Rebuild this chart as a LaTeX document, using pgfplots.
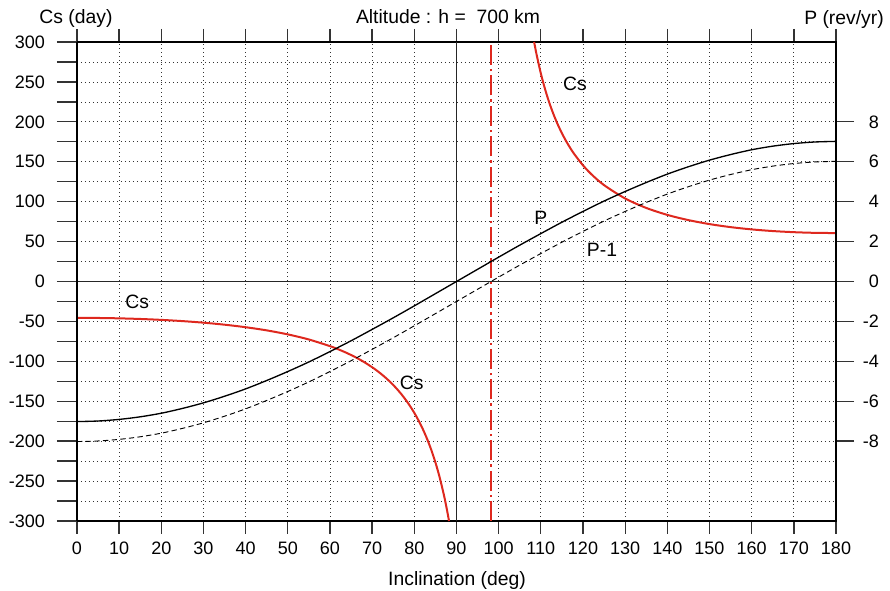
\documentclass[border=0pt]{standalone}
\usepackage{fontspec}
\setmainfont{Liberation Sans}
\usepackage{pgfplots}
\pgfplotsset{compat=1.18}
\definecolor{cred}{RGB}{222,40,30}
\newcommand{\ff}{\fontsize{13.5}{16}\selectfont}
\newcommand{\fl}{\fontsize{14.5}{17}\selectfont}

\begin{document}
\ff
\begin{tikzpicture}
\pgfplotsset{
  base/.style={width=569.25pt,height=359.25pt,scale only axis,xmin=0,xmax=180,
    /pgf/number format/assume math mode=true, tick align=outside,
    every tick/.style={black!80,line width=1pt},
    tick label style={font=\ff},
    axis line style={line width=1.1pt}},
}
% main axis: grid, x ticks, Cs curves
\begin{axis}[base, ymin=-300, ymax=300,
  xtick={0,10,...,180}, ytick={-300,-250,...,300}, minor ytick={-275,-225,...,275},
  grid=both,
  major grid style={black!80,line width=0.55pt,dash pattern=on 0.55pt off 2.45pt},
  minor grid style={black!80,line width=0.55pt,dash pattern=on 0.55pt off 2.45pt},
  major tick length=9.75pt, minor tick length=0pt,
  ytick style={draw=none},
  yticklabel style={xshift=-9.6pt},
  xticklabel style={yshift=-1.5pt},
  clip=false]
\coordinate (SW) at (rel axis cs:0,0);
\addplot[black!85, line width=0.9pt] coordinates {(90,-300) (90,300)};
\addplot[black!85, line width=0.9pt] coordinates {(0,0) (180,0)};
\addplot[cred, line width=1.4pt, dash pattern=on 15pt off 3pt on 1.8pt off 3pt] coordinates {(98.19,-300) (98.19,300)};
% Cs, left branch
\addplot[cred, line width=1.5pt, smooth] coordinates {
(0,-45.54) (5,-45.70) (10,-46.16) (15,-46.94) (20,-48.08) (25,-49.61) (30,-51.59)
(35,-54.11) (40,-57.27) (45,-61.24) (50,-66.26) (55,-72.66) (60,-80.99) (62,-85.03)
(64,-89.58) (66,-94.74) (68,-100.63) (70,-107.40) (71,-111.17) (72,-115.25) (73,-119.66)
(74,-124.45) (75,-129.66) (76,-135.36) (77,-141.62) (78,-148.51) (79,-156.12) (80,-164.60)
(81,-174.09) (82,-184.75) (83,-196.85) (84,-210.67) (85,-226.60) (86,-245.18)
(87,-267.11) (87.5,-279.63) (88,-293.37) (88.22,-300)};
% Cs, right branch
\addplot[cred, line width=1.5pt, smooth] coordinates {
(108.41,300) (108.5,297.56) (109,284.13) (110,260.71) (111,240.96) (112,224.11)
(113,209.56) (114,196.87) (115,185.71) (116,175.82) (117,167.01) (118,159.10)
(120,145.52) (122,134.28) (125,120.68) (130,103.99) (135,92.14) (140,83.44)
(145,76.89) (150,71.91) (155,68.11) (160,65.26) (165,63.18) (170,61.77)
(175,60.94) (180,60.67)};
\node[font=\fl] at (axis cs:14.3,-25) {Cs};
\node[font=\fl] at (axis cs:79.4,-126.6) {Cs};
\node[font=\fl] at (axis cs:118.1,248) {Cs};
\node[font=\fl] at (axis cs:110,80) {P};
\node[font=\fl] at (axis cs:124.5,40) {P-1};
\end{axis}
% left ticks every 25
\begin{axis}[base, ymin=-300, ymax=300, axis x line=none, axis y line*=left,
  xtick=\empty, ytick={-300,-275,...,300}, yticklabels={},
  major tick length=15pt]
\end{axis}
% right axis: P (rev/yr)
\begin{axis}[base, ymin=-12, ymax=12, axis x line=none, axis y line*=right,
  xtick=\empty, ytick={-8,-6,...,8},
  major tick length=13.5pt,
  yticklabel style={anchor=east, xshift=23.4pt}]
\addplot[black, line width=1pt, smooth] coordinates {
(0,-7.02) (5,-6.99) (10,-6.91) (15,-6.78) (20,-6.60) (25,-6.36) (30,-6.08) (35,-5.75)
(40,-5.38) (45,-4.96) (50,-4.51) (55,-4.03) (60,-3.51) (65,-2.97) (70,-2.40) (75,-1.82)
(80,-1.22) (85,-0.61) (90,0) (95,0.61) (100,1.22) (105,1.82) (110,2.40) (115,2.97)
(120,3.51) (125,4.03) (130,4.51) (135,4.96) (140,5.38) (145,5.75) (150,6.08) (155,6.36)
(160,6.60) (165,6.78) (170,6.91) (175,6.99) (180,7.02)};
\addplot[black, line width=0.7pt, smooth, dash pattern=on 4pt off 2.5pt] coordinates {
(0,-8.02) (5,-7.99) (10,-7.91) (15,-7.78) (20,-7.60) (25,-7.36) (30,-7.08) (35,-6.75)
(40,-6.38) (45,-5.96) (50,-5.51) (55,-5.03) (60,-4.51) (65,-3.97) (70,-3.40) (75,-2.82)
(80,-2.22) (85,-1.61) (90,-1) (95,-0.39) (100,0.22) (105,0.82) (110,1.40) (115,1.97)
(120,2.51) (125,3.03) (130,3.51) (135,3.96) (140,4.38) (145,4.75) (150,5.08) (155,5.36)
(160,5.60) (165,5.78) (170,5.91) (175,5.99) (180,6.02)};
\end{axis}
\node[font=\fl, anchor=base] at ([xshift=278.25pt, yshift=372.75pt]SW) {Altitude : h =\ \ 700 km};
\node[font=\fl, anchor=base] at ([xshift=-0.75pt, yshift=372.75pt]SW) {Cs (day)};
\node[font=\fl, anchor=base] at ([xshift=575.25pt, yshift=372pt]SW) {P (rev/yr)};
\node[font=\fl, anchor=base] at ([xshift=285pt, yshift=-48.5pt]SW) {Inclination (deg)};
\pgfresetboundingbox
\path ([xshift=-57.75pt, yshift=-52.5pt]SW) rectangle ++(667.5pt, 443.25pt);
\end{tikzpicture}
\end{document}
